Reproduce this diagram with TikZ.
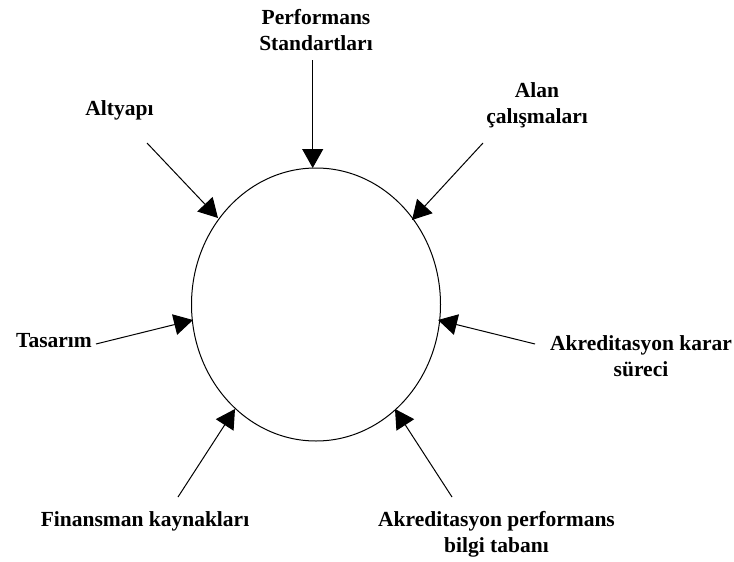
\documentclass[tikz,border=0pt]{standalone}
\usepackage{fontspec}
\setmainfont{Liberation Serif}
\usetikzlibrary{arrows.meta,shapes.geometric}
\tikzset{
  lbl/.style={font=\fontsize{21.5}{26}\selectfont\bfseries, align=center, inner sep=0pt, anchor=base},
  arr/.style={line width=1pt, -{Triangle[length=19pt,width=21pt]}}
}
\begin{document}
\begin{tikzpicture}[x=1pt,y=-1pt]
\useasboundingbox (0,0) rectangle (734,562);
\node[draw, line width=1pt, ellipse, minimum width=249pt, minimum height=273pt, inner sep=0pt] (c) at (316,304.5) {};
\node[lbl] (perf) at (316,50) {Performans\\Standartları};
\node[lbl] (alt) at (119.5,115) {Altyapı};
\node[lbl] (alan) at (537,123) {Alan\\çalışmaları};
\node[lbl] (tas) at (54,347) {Tasarım};
\node[lbl] (aks) at (641,376) {Akreditasyon karar\\süreci};
\node[lbl] (fin) at (145,526) {Finansman kaynakları};
\node[lbl] (apb) at (496.5,552) {Akreditasyon performans\\bilgi tabanı};
\coordinate (s1) at (312.7,60);  \coordinate (t1) at (312.7,168);
\coordinate (s2) at (147,143);   \coordinate (t2) at (218,218);
\coordinate (s3) at (483,143);   \coordinate (t3) at (412,220);
\coordinate (s4) at (96,344);    \coordinate (t4) at (193,320);
\coordinate (s5) at (535,344);   \coordinate (t5) at (438,320);
\coordinate (s6) at (178,497);   \coordinate (t6) at (235,409);
\coordinate (s7) at (452,497);   \coordinate (t7) at (395,409);
\draw[arr] (s1) -- (t1);
\draw[arr] (s2) -- (t2);
\draw[arr] (s3) -- (t3);
\draw[arr] (s4) -- (t4);
\draw[arr] (s5) -- (t5);
\draw[arr] (s6) -- (t6);
\draw[arr] (s7) -- (t7);
\end{tikzpicture}
\end{document}
